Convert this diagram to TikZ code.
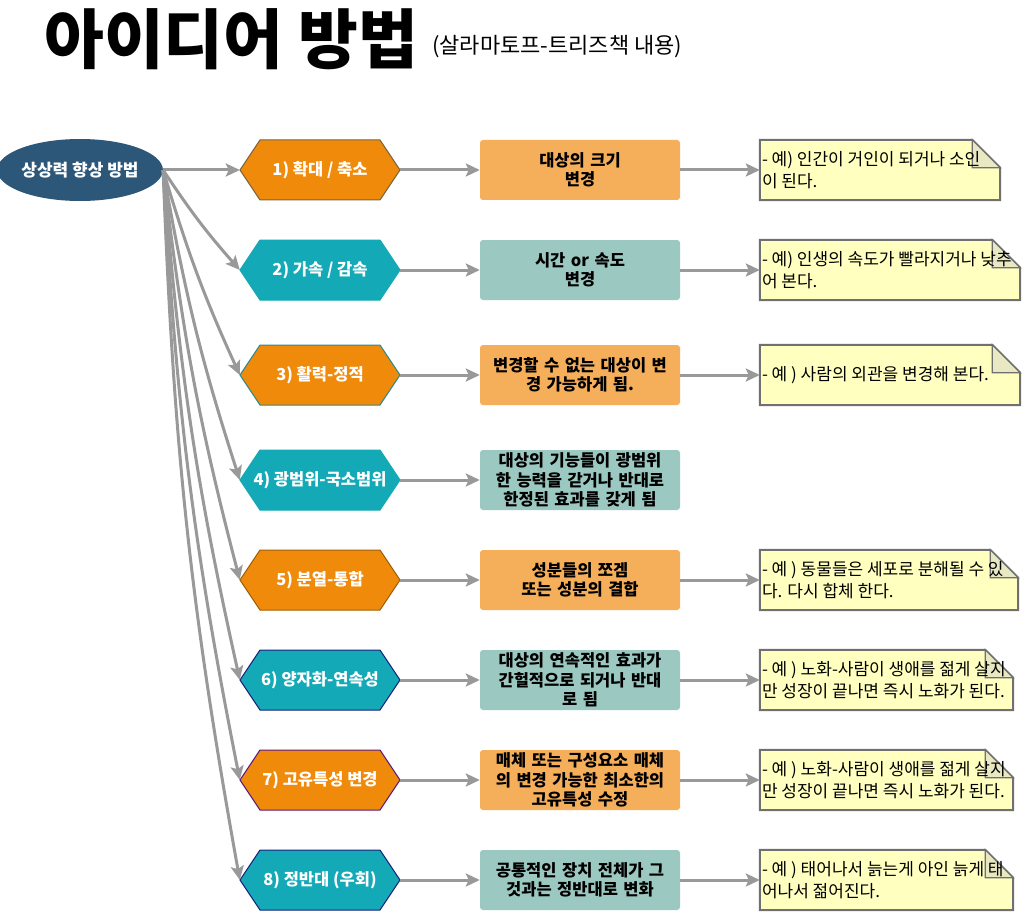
\documentclass[tikz,border=0pt]{standalone}
\usepackage{fontspec}
\setmainfont{Noto Sans CJK KR}
\usetikzlibrary{arrows.meta,shapes.geometric}
\definecolor{hexorange}{HTML}{F08A0B}
\definecolor{hexteal}{HTML}{13A9B6}
\definecolor{ellblue}{HTML}{2D5779}
\definecolor{midorange}{HTML}{F5AE5A}
\definecolor{midteal}{HTML}{9BC8C0}
\definecolor{notefill}{HTML}{FFFFC0}
\definecolor{notefold}{HTML}{E8E8C2}
\definecolor{noteborder}{HTML}{707070}
\definecolor{arrowgray}{HTML}{999999}
\definecolor{bdbrown}{HTML}{7A6440}
\definecolor{bdteal}{HTML}{2A8A90}
\definecolor{bdbrownb}{HTML}{A0600A}
\definecolor{bdnavy}{HTML}{1A237E}
\definecolor{bdpurple}{HTML}{5B1A7E}
\tikzset{
  conn/.style={draw=arrowgray, line width=3pt, -{Stealth[length=14pt,width=13pt,inset=3pt]}},
  hexbox/.style={minimum width=160pt, minimum height=60pt, inner sep=0pt, text=white,
    font=\bfseries\fontsize{16.5}{19}\selectfont},
  midbox/.style={rounded corners=3pt, minimum width=200pt, minimum height=60pt, inner sep=0pt,
    text width=198pt, align=center, font=\bfseries\fontsize{16.5}{19.5}\selectfont},
  notebox/.style={minimum height=60pt, inner sep=0pt},
  noteshape/.style={fill=notefill, draw=noteborder, line width=2pt, line join=miter},
  foldshape/.style={fill=notefold, draw=noteborder, line width=1.2pt},
  notetext/.style={anchor=west, align=left, inner sep=0pt, font=\fontsize{17}{22}\selectfont},
}
\newcommand{\hexrow}[5]{%
  \path[fill=#3,draw=#4,line width=1pt] (240,#2) -- (260,#2-30) -- (380,#2-30) -- (400,#2) -- (380,#2+30) -- (260,#2+30) -- cycle;
  \node[hexbox] (#1) at (320,#2) {#5};}
\newcommand{\noterow}[4]{%
  \node[notebox, minimum width=#3pt] (#1) at (760+#3/2,#2) {};
  \path[noteshape] (#1.north west) -- ([xshift=-28pt]#1.north east) -- ([yshift=-28pt]#1.north east) -- (#1.south east) -- (#1.south west) -- cycle;
  \path[foldshape] ([xshift=-28pt]#1.north east) -- ([xshift=-28pt,yshift=-28pt]#1.north east) -- ([yshift=-28pt]#1.north east) -- cycle;
  \node[notetext] (#1t) at ([xshift=2pt]#1.west) {#4};}
\begin{document}
\begin{tikzpicture}[x=1pt,y=-1pt]
\useasboundingbox[fill=white] (0,0) rectangle (1022,912);
% title
\node[anchor=base west, inner sep=0pt, font=\bfseries\fontsize{65}{67}\selectfont] (title) at (44,64) {아이디어 방법};
\node[anchor=base west, inner sep=0pt, font=\fontsize{22}{24}\selectfont] (subtitle) at (432,54) {(살라마토프-트리즈책 내용)};
% root
\node[ellipse, fill=ellblue, minimum width=160pt, minimum height=62pt, inner sep=0pt, text=white,
  font=\bfseries\fontsize{17}{19}\selectfont] (e) at (80,170) {상상력 향상 방법};
% hexagons
\hexrow{h1}{170}{hexorange}{bdbrown}{1) 확대 / 축소}
\hexrow{h2}{270}{hexteal}{hexteal}{2) 가속 / 감속}
\hexrow{h3}{375}{hexorange}{bdteal}{3) 활력-정적}
\hexrow{h4}{480}{hexteal}{hexteal}{4) 광범위-국소범위}
\hexrow{h5}{580}{hexorange}{bdbrownb}{5) 분열-통합}
\hexrow{h6}{680}{hexteal}{bdnavy}{6) 양자화-연속성}
\hexrow{h7}{780}{hexorange}{bdpurple}{7) 고유특성 변경}
\hexrow{h8}{880}{hexteal}{bdnavy}{8) 정반대 (우회)}
% middle boxes
\node[midbox, fill=midorange] (m1) at (580,170) {대상의 크기\\변경};
\node[midbox, fill=midteal] (m2) at (580,270) {시간 or 속도\\변경};
\node[midbox, fill=midorange] (m3) at (580,375) {변경할 수 없는 대상이 변\\경 가능하게 됨.};
\node[midbox, fill=midteal] (m4) at (580,480) {대상의 기능들이 광범위\\한 능력을 갇거나 반대로\\한정된 효과를 갖게 됨};
\node[midbox, fill=midorange] (m5) at (580,580) {성분들의 쪼겜\\또는 성분의 결합};
\node[midbox, fill=midteal] (m6) at (580,680) {대상의 연속적인 효과가\\간헐적으로 되거나 반대\\로 됨};
\node[midbox, fill=midorange] (m7) at (580,780) {매체 또는 구성요소 매체\\의 변경 가능한 최소한의\\고유특성 수정};
\node[midbox, fill=midteal] (m8) at (580,880) {공통적인 장치 전체가 그\\것과는 정반대로 변화};
% notes
\noterow{n1}{170}{240}{- 예) 인간이 거인이 되거나 소인\\이 된다.}
\noterow{n2}{270}{260}{- 예) 인생의 속도가 빨라지거나 낮추\\어 본다.}
\noterow{n3}{375}{260}{- 예 ) 사람의 외관을 변경해 본다.}
\noterow{n5}{580}{258}{- 예 ) 동물들은 세포로 분해될 수 있\\다. 다시 합체 한다.}
\noterow{n6}{680}{253}{- 예 ) 노화-사람이 생애를 젊게 살지\\만 성장이 끝나면 즉시 노화가 된다.}
\noterow{n7}{780}{253}{- 예 ) 노화-사람이 생애를 젊게 살지\\만 성장이 끝나면 즉시 노화가 된다.}
\noterow{n8}{880}{253}{- 예 ) 태어나서 늙는게 아인 늙게 태\\어나서 젊어진다.}
% connectors
\draw[conn] (e.east) -- (h1.west);
\foreach \i in {2,...,8} { \draw[conn] (e.east) to[bend right=4] (h\i.west); }
\foreach \i in {1,...,8} { \draw[conn] (h\i.east) -- (m\i.west); }
\foreach \i in {1,2,3,5,6,7,8} { \draw[conn] (m\i.east) -- (n\i.west); }
\end{tikzpicture}
\end{document}
